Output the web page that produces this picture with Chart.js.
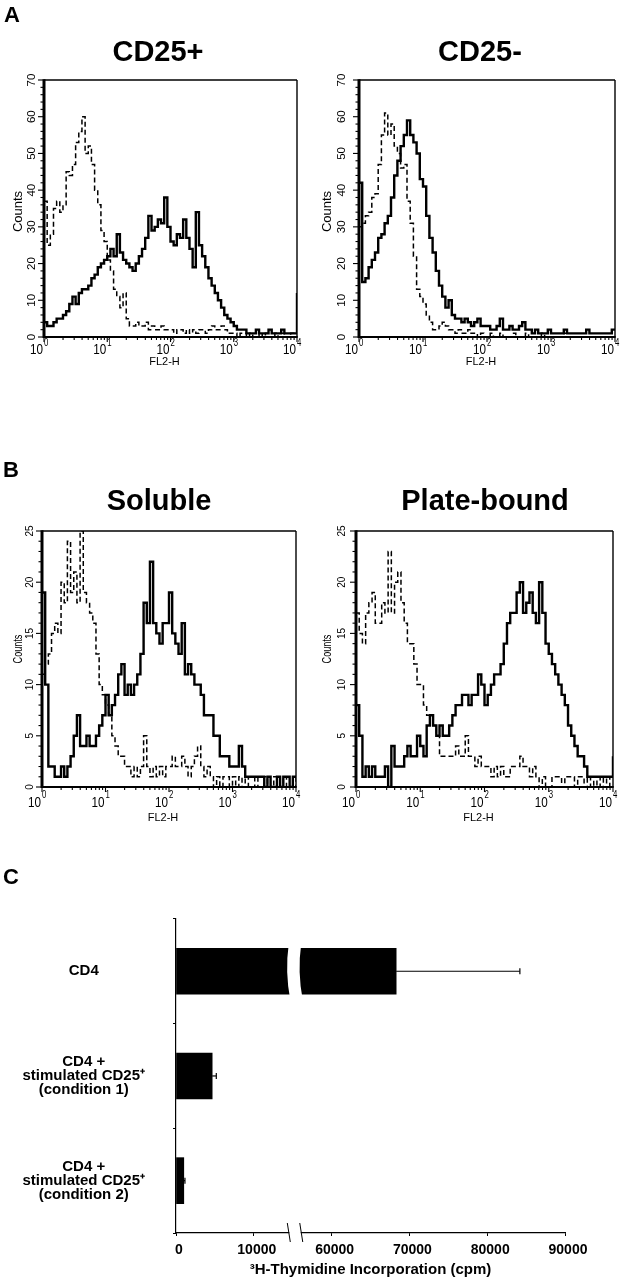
<!DOCTYPE html>
<html><head><meta charset="utf-8">
<script src="https://cdn.jsdelivr.net/npm/chart.js@4.4.1/dist/chart.umd.min.js"></script>
<style>
html,body{margin:0;padding:0;background:#fff;}
body{width:631px;height:1280px;overflow:hidden;position:relative;font-family:"Liberation Sans",Arial,Helvetica,sans-serif;}
canvas{position:absolute;}
.lbl{position:absolute;font-weight:bold;font-size:22px;line-height:1;color:#000;}
</style></head><body>
<canvas id="cA1" width="316" height="372" style="left:0px;top:0px"></canvas>
<canvas id="cA2" width="315" height="372" style="left:316px;top:0px"></canvas>
<canvas id="cB1" width="318" height="385" style="left:0px;top:440px"></canvas>
<canvas id="cB2" width="315" height="385" style="left:316px;top:440px"></canvas>
<canvas id="cC" width="631" height="410" style="left:0px;top:870px"></canvas>
<div class="lbl" style="left:4px;top:4px">A</div>
<div class="lbl" style="left:3px;top:459px">B</div>
<div class="lbl" style="left:3px;top:866px">C</div>
<script>
// ---------------- DATA ----------------
// histogram channels: 20 bins per decade from 10^0 to 10^4 (last value = edge channel at 10^4)
const BINS_PER_DECADE = 20;
const decadeExponents = ['0', '1', '2', '3', '4'];
const countTicksA = [0, 10, 20, 30, 40, 50, 60, 70];
const countTicksB = [0, 5, 10, 15, 20, 25];

// Panel A, CD25+
const aPosSolid = [4,3,3,4,5,5,6,7,9,11, 9,12,13,13,14,16,17,19,20,21, 22,24,22,28,23,21,20,19,18,20,
  22,24,27,33,29,30,32,31,38,30, 26,25,28,27,32,27,24,19,34,25, 22,19,16,14,12,10,8,6,5,4,
  3,2,2,2,1,1,1,2,1,1, 1,2,1,1,1,2,1,1,1,1, 12];
const aPosDashed = [37,25,28,35,37,34,36,45,44,47, 53,56,60,50,52,47,40,36,29,26, 21,18,13,11,8,12,5,3,3,4,
  3,3,4,2,3,2,2,3,2,2, 2,1,2,2,1,2,1,2,1,2, 2,1,2,3,2,2,3,2,1,1,
  1,0,1,1,0,1,0,0,1,0, 1,0,0,1,0,1,0,0,1,0, 0];
// Panel A, CD25-
const aNegSolid = [42,15,16,19,21,23,27,28,31,33, 38,44,48,52,55,59,55,53,50,43, 41,33,27,23,18,14,11,8,10,6,
  5,5,4,5,4,3,4,5,3,3, 3,2,2,3,5,2,2,3,2,2, 3,4,2,2,1,2,1,1,1,2,
  1,1,1,1,2,1,1,1,1,1, 1,2,1,1,1,1,1,1,1,2, 2];
const aNegDashed = [30,31,33,34,38,39,47,55,61,55, 58,52,50,46,47,37,31,22,13,11, 9,6,4,2,2,3,4,3,2,2,
  1,2,1,1,2,1,1,0,1,0, 0,1,0,0,1,0,0,0,1,0, 0,0,1,0,0,0,0,1,0,0,
  0,0,0,0,1,0,0,0,0,0, 0,0,0,0,0,0,0,0,0,0, 0];
// Panel B, Soluble
const bSolSolid = [19,10,2,2,1,1,2,1,2,3, 5,7,4,4,5,4,4,5,6,7, 9,7,8,9,11,12,9,10,9,10,
  11,13,18,16,22,16,15,14,16,16, 19,15,14,13,16,11,12,11,10,10, 9,7,7,7,5,5,3,3,3,2,
  2,2,4,2,1,1,1,1,1,1, 0,1,0,0,1,0,1,1,0,1, 1];
const bSolDashed = [11,12,13,15,16,15,20,18,24,19, 21,18,25,19,18,17,16,13,10,9, 8,7,5,4,3,3,2,2,1,2,
  1,2,5,2,1,2,1,2,1,2, 2,3,2,2,3,2,1,2,3,4, 2,1,2,1,0,1,0,1,1,0,
  1,0,1,0,1,0,0,1,0,0, 1,0,0,1,0,0,1,0,0,1, 0];
// Panel B, Plate-bound
const bPlateSolid = [8,5,1,2,1,2,1,1,1,2, 0,4,2,2,2,3,4,3,3,5, 4,3,6,7,6,5,6,5,5,6,
  7,8,8,9,9,8,9,9,11,10, 8,9,10,11,11,12,14,16,17,17, 19,20,17,18,19,17,16,20,17,14,
  13,12,11,10,9,8,6,5,4,3, 3,2,1,1,1,1,1,1,1,1, 3];
const bPlateDashed = [17,15,14,17,18,19,16,16,18,17, 23,17,20,21,18,16,14,14,12,10, 10,8,7,7,6,5,3,3,3,3,
  3,4,3,3,5,3,3,2,3,2, 2,2,1,2,1,2,1,1,2,2, 2,3,2,2,1,2,1,0,1,0,
  0,1,1,1,0,1,1,1,0,1, 1,0,1,0,1,0,1,0,1,0, 0];

// Panel C
const cpmCategories = ['CD4', ['CD4 +', 'stimulated CD25\u207A', '(condition 1)'], ['CD4 +', 'stimulated CD25\u207A', '(condition 2)']];
const cpmMean = [68300, 4650, 1000];
const cpmErrHigh = [84200, 5180, 1150];
const cpmTickLabels = ['0', '10000', '60000', '70000', '80000', '90000'];
const BREAK_LOW = 15000;      // values above this are drawn past the axis break
const BREAK_SHIFT = 40000;    // span removed by the break (10000 -> 60000)
const axisGap = [14500, 16100]; // break position in axis units

// ---------------- HELPERS ----------------
const FONT = '"Liberation Sans", Arial, Helvetica, sans-serif';
Chart.defaults.font.family = FONT;
Chart.defaults.color = '#000';
function seg(ctx, x1, y1, x2, y2) { ctx.beginPath(); ctx.moveTo(x1, y1); ctx.lineTo(x2, y2); ctx.stroke(); }
function toAxis(v) { return v > BREAK_LOW ? v - BREAK_SHIFT : v; }

const histDeco = {
  id: 'histDeco',
  afterDraw(chart, args, o) {
    const ctx = chart.ctx, a = chart.chartArea, xs = chart.scales.x, ys = chart.scales.y;
    ctx.save();
    ctx.strokeStyle = '#000'; ctx.fillStyle = '#000';
    // frame
    ctx.lineWidth = 1.4;
    seg(ctx, a.left, a.top, a.right, a.top);
    seg(ctx, a.right, a.top, a.right, a.bottom);
    ctx.lineWidth = 2;
    seg(ctx, a.left, a.bottom, a.right + 0.7, a.bottom);
    ctx.lineWidth = 3;
    seg(ctx, a.left, a.top - 0.7, a.left, a.bottom + 1);
    // y tick marks
    ctx.lineWidth = 1.1;
    for (let k = 0; k * o.yMinor <= ys.max + 1e-9; k++) {
      const v = k * o.yMinor, y = ys.getPixelForValue(v);
      const isMajor = o.yTicks.indexOf(v) >= 0;
      seg(ctx, a.left - (isMajor ? 6 : 3.5), y, a.left, y);
    }
    // y tick labels (rotated)
    ctx.font = o.yFont; ctx.textAlign = 'center'; ctx.textBaseline = 'middle';
    o.yTicks.forEach(v => {
      const y = ys.getPixelForValue(v);
      ctx.save(); ctx.translate(a.left - o.yGap, y); ctx.rotate(-Math.PI / 2);
      ctx.fillText(String(v), 0, 0); ctx.restore();
    });
    // y title
    ctx.save();
    ctx.translate(a.left - o.countsOff, (a.top + a.bottom) / 2 + o.countsDy);
    ctx.rotate(-Math.PI / 2); ctx.scale(o.countsLs, 1);
    ctx.font = o.countsFont; ctx.fillText(o.yTitle, 0, 0);
    ctx.restore();
    // x tick marks (log)
    ctx.lineWidth = 1.1;
    for (let d = 0; d < decadeExponents.length - 1; d++) {
      for (let m = 1; m <= 9; m++) {
        const x = xs.getPixelForValue(m * Math.pow(10, d));
        seg(ctx, x, a.bottom, x, a.bottom + (m === 1 ? 5 : 3));
      }
    }
    const xe = xs.getPixelForValue(Math.pow(10, decadeExponents.length - 1));
    seg(ctx, xe, a.bottom, xe, a.bottom + 5);
    // x tick labels 10^n
    decadeExponents.forEach(e => {
      const x = xs.getPixelForValue(Math.pow(10, Number(e)));
      ctx.save();
      ctx.translate(x, a.bottom + o.xBaseDy);
      ctx.scale(o.xHs, 1);
      ctx.textBaseline = 'alphabetic';
      ctx.font = o.xBaseFont; ctx.textAlign = 'right';
      ctx.fillText('10', -1 / o.xHs, 0);
      ctx.font = o.xExpFont; ctx.textAlign = 'left';
      ctx.fillText(e, 0, -o.xExpRaise);
      ctx.restore();
    });
    // x title
    ctx.font = o.flFont; ctx.textAlign = 'center'; ctx.textBaseline = 'alphabetic';
    ctx.fillText(o.xTitle, (a.left + a.right) / 2 + o.flDx, a.bottom + o.flDy);
    ctx.restore();
  }
};

function histChart(id, title, solid, dashed, g) {
  const pts = arr => arr.map((v, i) => ({ x: Math.pow(10, i / BINS_PER_DECADE), y: v }));
  return new Chart(document.getElementById(id), {
    type: 'line',
    data: { datasets: [
      { data: pts(solid), borderColor: '#000', borderWidth: 2.4, stepped: true, pointRadius: 0, fill: false },
      { data: pts(dashed), borderColor: '#000', borderWidth: 1.5, borderDash: [5, 3], stepped: true, pointRadius: 0, fill: false }
    ] },
    options: {
      responsive: false, animation: false, events: [],
      layout: { padding: { left: g.padL, right: 0, top: 0, bottom: 0 } },
      plugins: {
        legend: { display: false }, tooltip: { enabled: false },
        title: { display: true, text: title, color: '#000',
          font: { family: FONT, size: 29, weight: 'bold', lineHeight: 1 },
          padding: { top: g.tTop, bottom: g.tBottom } },
        histDeco: g.deco
      },
      scales: {
        x: { type: 'logarithmic', min: 1, max: 10000, ticks: { display: false }, grid: { display: false }, border: { display: false },
             afterFit: s => { s.height = g.xH; } },
        y: { type: 'linear', min: 0, max: g.ymax, ticks: { display: false }, grid: { display: false }, border: { display: false },
             afterFit: s => { s.width = g.yW; } },
        yR: { type: 'linear', position: 'right', min: 0, max: 1, ticks: { display: false }, grid: { display: false }, border: { display: false },
             afterFit: s => { s.width = g.rW; } }
      }
    },
    plugins: [histDeco]
  });
}

const decoA = (yGap, countsOff) => ({
  yTicks: countTicksA, yMinor: 2, yGap: yGap, yFont: '11.5px ' + FONT,
  yTitle: 'Counts', countsOff: countsOff, countsDy: 3, countsLs: 1, countsFont: '13px ' + FONT,
  xBaseFont: '15px ' + FONT, xExpFont: '10px ' + FONT, xHs: 0.78, xBaseDy: 17, xExpRaise: 8,
  xTitle: 'FL2-H', flFont: '11px ' + FONT, flDx: -6, flDy: 28
});
const decoB = (yGap, countsOff) => ({
  yTicks: countTicksB, yMinor: 1, yGap: yGap, yFont: '10px ' + FONT,
  yTitle: 'Counts', countsOff: countsOff, countsDy: -10, countsLs: 0.7, countsFont: '13px ' + FONT,
  xBaseFont: '15px ' + FONT, xExpFont: '10px ' + FONT, xHs: 0.78, xBaseDy: 19.5, xExpRaise: 9,
  xTitle: 'FL2-H', flFont: '11px ' + FONT, flDx: -6, flDy: 34
});

histChart('cA1', 'CD25+', aPosSolid, aPosDashed, { padL: 0, yW: 44, rW: 19, xH: 35, tTop: 38.5, tBottom: 12.5, ymax: 70, deco: decoA(12, 26) });
histChart('cA2', 'CD25-', aNegSolid, aNegDashed, { padL: 13, yW: 30, rW: 16, xH: 35, tTop: 38.5, tBottom: 12.5, ymax: 70, deco: decoA(17, 32) });
histChart('cB1', 'Soluble', bSolSolid, bSolDashed, { padL: 0, yW: 42, rW: 22, xH: 38, tTop: 47.5, tBottom: 14.5, ymax: 25, deco: decoB(12, 24) });
histChart('cB2', 'Plate-bound', bPlateSolid, bPlateDashed, { padL: 23, yW: 17, rW: 18, xH: 38, tTop: 47.5, tBottom: 14.5, ymax: 25, deco: decoB(14, 29) });

// ---------------- PANEL C ----------------
const barDeco = {
  id: 'barDeco',
  afterDatasetsDraw(chart) {
    const ctx = chart.ctx, xs = chart.scales.x, meta = chart.getDatasetMeta(0);
    ctx.save();
    ctx.strokeStyle = '#000'; ctx.lineWidth = 1.2;
    meta.data.forEach((el, i) => {
      const x0 = xs.getPixelForValue(toAxis(cpmMean[i])), x1 = xs.getPixelForValue(toAxis(cpmErrHigh[i]));
      seg(ctx, x0, el.y, x1, el.y);
      seg(ctx, x1, el.y - 3, x1, el.y + 3);
    });
    const g1 = xs.getPixelForValue(axisGap[0]), g2 = xs.getPixelForValue(axisGap[1]);
    ctx.fillStyle = '#fff';
    meta.data.forEach((el, i) => {
      if (cpmMean[i] <= BREAK_LOW) return;
      const t = el.y - el.height / 2 - 5, b = el.y + el.height / 2 + 6, m = (t + b) / 2;
      ctx.beginPath();
      ctx.moveTo(g1, t);
      ctx.quadraticCurveTo(g1 - 4, m, g1 + 1.5, b);
      ctx.lineTo(g2 + 1.5, b);
      ctx.quadraticCurveTo(g2 - 4, m, g2, t);
      ctx.closePath(); ctx.fill();
    });
    ctx.restore();
  },
  afterDraw(chart) {
    const ctx = chart.ctx, xs = chart.scales.x, a = chart.chartArea;
    const g1 = xs.getPixelForValue(axisGap[0]), g2 = xs.getPixelForValue(axisGap[1]);
    ctx.save();
    ctx.fillStyle = '#fff';
    ctx.fillRect(g1 + 0.5, a.bottom - 2, g2 - g1 - 1, 4);
    ctx.strokeStyle = '#000'; ctx.lineWidth = 1;
    seg(ctx, g1 - 1.5, a.bottom - 10, g1 + 1.5, a.bottom + 9);
    seg(ctx, g2 - 1.5, a.bottom - 10, g2 + 1.5, a.bottom + 9);
    ctx.restore();
  }
};

new Chart(document.getElementById('cC'), {
  type: 'bar',
  data: { labels: cpmCategories, datasets: [{ data: cpmMean.map(toAxis), backgroundColor: '#000', borderWidth: 0, barThickness: 46 }] },
  options: {
    indexAxis: 'y', responsive: false, animation: false, events: [],
    layout: { padding: { top: 17, right: 66, left: 0, bottom: 0 } },
    plugins: { legend: { display: false }, tooltip: { enabled: false } },
    scales: {
      x: { type: 'linear', min: 0, max: 50000,
           ticks: { stepSize: 10000, autoSkip: false, maxRotation: 0, callback: (v, i) => cpmTickLabels[i], color: '#000',
                    font: { family: FONT, size: 14, weight: 'bold' }, padding: 6, labelOffset: 3 },
           grid: { drawOnChartArea: false, drawTicks: true, tickLength: 3, color: '#000', tickWidth: 1 },
           border: { display: true, color: '#000', width: 1.2 },
           title: { display: true, text: '\u00B3H-Thymidine Incorporation (cpm)', color: '#000',
                    font: { family: FONT, size: 15, weight: 'bold', lineHeight: 1.2 }, padding: { top: 0, bottom: 1 } },
           afterFit: s => { s.height = 47; } },
      y: { type: 'category',
           ticks: { color: '#000', font: { family: FONT, size: 15, weight: 'bold', lineHeight: 0.93 }, crossAlign: 'center', padding: 28 },
           grid: { drawOnChartArea: false, tickLength: 3, color: '#000', offset: true },
           border: { display: true, color: '#000', width: 1.2 },
           afterFit: s => { s.width = 176; } }
    }
  },
  plugins: [barDeco]
});
</script>
</body></html>
